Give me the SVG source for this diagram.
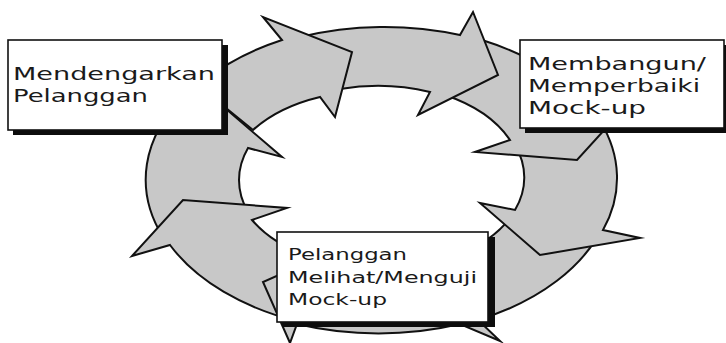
<svg xmlns="http://www.w3.org/2000/svg" width="726" height="343" viewBox="0 0 726 343">
  <style>
    .seg { fill: #c8c8c8; stroke: #111; stroke-width: 2; stroke-linejoin: miter; stroke-miterlimit: 10; }
    .shadow { fill: #0d0d0d; }
    .box { fill: #ffffff; stroke: #111; stroke-width: 1.6; }
    .lbl { font-family: "DejaVu Sans", Verdana, sans-serif; fill: #1a1a1a; }
    .big { font-size: 18px; }
    .small { font-size: 15px; }
  </style>
  <rect width="726" height="343" fill="#ffffff"/>

  <!-- ring of curved arrows, drawn so that each head sits over the next tail -->
  <g id="cycle-arrows">
    <!-- left side, rising into the left box -->
    <path class="seg" d="M163,237 A236,153 0 0 1 185,95 L175,70 L215,99.6 L282,157 L248,148 A144,92 0 0 0 248,212 Z"/>
    <!-- lower left, head pointing up -->
    <path class="seg" d="M300,322 A236,153 0 0 1 170,245 L132,256 L183,200 L287,208 L252,220 A144,92 0 0 0 320,260 Z"/>
    <!-- bottom, running left under the lower box -->
    <path class="seg" d="M604,224 A236,153 0 0 1 478,320 L500,341 L460,324 A236,153 0 0 1 297,324 L290,343 L263,282 L335,250 L350,267 A144,92 0 0 0 515,211 Z"/>
    <!-- right side, head pointing down-left -->
    <path class="seg" d="M600,121 A236,153 0 0 1 603,230 L640,238 L540,255 L480,203 L515,210 A144,92 0 0 0 515,145 Z"/>
    <!-- upper right, passing under the right box -->
    <path class="seg" d="M482,40 A236,153 0 0 1 590,108 L628,104 L577,160 L475,152 L510,140 A144,92 0 0 0 445,95 Z"/>
    <!-- top right -->
    <path class="seg" d="M300,37 A236,153 0 0 1 460,35 L473,12 L498,75 L418,115 L430,92 A144,92 0 0 0 340,89 Z"/>
    <!-- top left, leaving the left box -->
    <path class="seg" d="M253,130 L210,95 L205,80 A236,153 0 0 1 282,40 L263,17 L352,52 L335,117 L320,97 A144,92 0 0 0 253,130 Z"/>
  </g>

  <g id="node-mendengarkan">
    <rect class="shadow" x="13" y="45" width="215" height="90"/>
    <rect class="box" x="8" y="40" width="214" height="90"/>
    <text class="lbl big" x="13" y="80" textLength="202" lengthAdjust="spacingAndGlyphs">Mendengarkan</text>
    <text class="lbl big" x="13" y="102" textLength="135" lengthAdjust="spacingAndGlyphs">Pelanggan</text>
  </g>

  <g id="node-membangun">
    <rect class="shadow" x="525" y="45" width="210" height="88"/>
    <rect class="box" x="520" y="40" width="204" height="88"/>
    <text class="lbl big" x="528" y="70" textLength="178" lengthAdjust="spacingAndGlyphs">Membangun/</text>
    <text class="lbl big" x="528" y="92" textLength="172" lengthAdjust="spacingAndGlyphs">Memperbaiki</text>
    <text class="lbl big" x="528" y="114" textLength="118" lengthAdjust="spacingAndGlyphs">Mock-up</text>
  </g>

  <g id="node-menguji">
    <rect class="shadow" x="282" y="237" width="213" height="90"/>
    <rect class="box" x="277" y="232" width="211" height="90"/>
    <text class="lbl small" x="288" y="260" textLength="119" lengthAdjust="spacingAndGlyphs">Pelanggan</text>
    <text class="lbl small" x="288" y="283" textLength="189" lengthAdjust="spacingAndGlyphs">Melihat/Menguji</text>
    <text class="lbl small" x="288" y="305" textLength="99" lengthAdjust="spacingAndGlyphs">Mock-up</text>
  </g>
</svg>
